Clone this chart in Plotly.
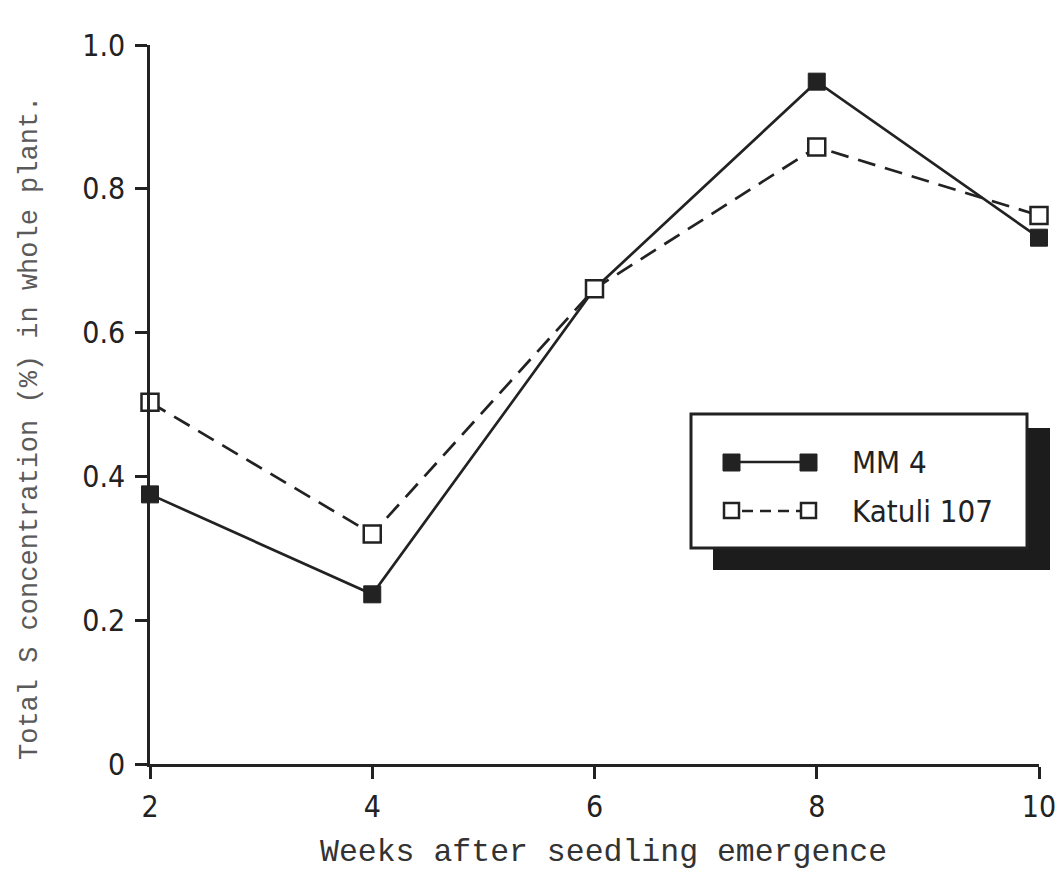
import plotly.graph_objects as go

# Sulphur concentration in whole plant by cultivar
weeks = [2, 4, 6, 8, 10]
mm4 = [0.375, 0.236, 0.661, 0.949, 0.732]
katuli107 = [0.503, 0.320, 0.661, 0.858, 0.763]
x_ticks = [2, 4, 6, 8, 10]
y_ticks = [0, 0.2, 0.4, 0.6, 0.8, 1.0]
y_tick_text = ["0", "0.2", "0.4", "0.6", "0.8", "1.0"]
series_names = ["MM 4", "Katuli 107"]

W, H = 1059, 896
L, R, T, B = 150, 20, 45, 132
INK = "#222222"
SANS = "DejaVu Sans Condensed, DejaVu Sans, sans-serif"
MONO = "Liberation Mono, DejaVu Sans Mono, monospace"


def px(x):
    return (x - L) / (W - L - R)


def py(y):
    return (H - B - y) / (H - T - B)


fig = go.Figure()
fig.add_trace(go.Scatter(
    x=weeks, y=mm4, mode="lines+markers", name=series_names[0],
    line=dict(color=INK, width=2.7),
    marker=dict(symbol="square", size=17, color=INK, line=dict(color=INK, width=1)),
    cliponaxis=False, showlegend=False))
fig.add_trace(go.Scatter(
    x=weeks, y=katuli107, mode="lines+markers", name=series_names[1],
    line=dict(color=INK, width=2.7, dash="18px,10px"),
    marker=dict(symbol="square", size=17, color="white", line=dict(color=INK, width=2.5)),
    cliponaxis=False, showlegend=False))

# Legend panel with drop shadow
shapes = [
    dict(type="rect", xref="paper", yref="paper", x0=px(713), x1=px(1050), y0=py(570), y1=py(428),
         fillcolor="#1c1c1c", line=dict(width=0), layer="above"),
    dict(type="rect", xref="paper", yref="paper", x0=px(691), x1=px(1027), y0=py(548), y1=py(414),
         fillcolor="white", line=dict(color=INK, width=3), layer="above"),
    # MM 4 sample
    dict(type="line", xref="paper", yref="paper", x0=px(731), x1=px(808), y0=py(462), y1=py(462),
         line=dict(color=INK, width=2.5), layer="above"),
    dict(type="rect", xref="paper", yref="paper", x0=px(723), x1=px(740), y0=py(471), y1=py(454),
         fillcolor=INK, line=dict(color=INK, width=1), layer="above"),
    dict(type="rect", xref="paper", yref="paper", x0=px(800), x1=px(817), y0=py(471), y1=py(454),
         fillcolor=INK, line=dict(color=INK, width=1), layer="above"),
    # Katuli 107 sample
    dict(type="line", xref="paper", yref="paper", x0=px(742), x1=px(800), y0=py(511), y1=py(511),
         line=dict(color=INK, width=2.5, dash="11px,7px"), layer="above"),
    dict(type="rect", xref="paper", yref="paper", x0=px(724), x1=px(739), y0=py(518), y1=py(503),
         fillcolor="white", line=dict(color=INK, width=2.5), layer="above"),
    dict(type="rect", xref="paper", yref="paper", x0=px(801), x1=px(816), y0=py(518), y1=py(503),
         fillcolor="white", line=dict(color=INK, width=2.5), layer="above"),
]

annotations = [
    dict(text=series_names[0], xref="paper", yref="paper", x=px(850), y=py(462),
         xanchor="left", yanchor="middle", showarrow=False,
         font=dict(family=SANS, size=31, color=INK)),
    dict(text=series_names[1], xref="paper", yref="paper", x=px(850), y=py(511),
         xanchor="left", yanchor="middle", showarrow=False,
         font=dict(family=SANS, size=31, color=INK)),
    dict(text="Weeks after seedling emergence", xref="paper", yref="paper",
         x=px(603), y=py(852), xanchor="center", yanchor="middle", showarrow=False,
         font=dict(family=MONO, size=31.5, color="#333333")),
    dict(text="Total S concentration (%) in whole plant.", xref="paper", yref="paper",
         x=px(30), y=py(428), xanchor="center", yanchor="middle", textangle=-90, showarrow=False,
         font=dict(family=MONO, size=27, color="#5a5a5a")),
]

fig.update_layout(
    width=W, height=H,
    margin=dict(l=L, r=R, t=T, b=B, pad=0, autoexpand=False),
    paper_bgcolor="white", plot_bgcolor="white",
    shapes=shapes, annotations=annotations,
    xaxis=dict(range=[2, 10], tickvals=x_ticks, ticktext=[str(v) for v in x_ticks],
               automargin=False,
               showgrid=False, zeroline=False, showline=True, linecolor=INK, linewidth=2.5,
               ticks="outside", ticklen=12, tickwidth=2.5, tickcolor=INK,
               ticklabelstandoff=2, ticklabeloverflow="allow",
               tickfont=dict(family=SANS, size=30, color=INK)),
    yaxis=dict(range=[0, 1.0], tickvals=y_ticks, ticktext=y_tick_text,
               automargin=False,
               showgrid=False, zeroline=False, showline=True, linecolor=INK, linewidth=2.5,
               ticks="outside", ticklen=12, tickwidth=2.5, tickcolor=INK,
               ticklabelstandoff=4, ticklabeloverflow="allow",
               tickfont=dict(family=SANS, size=30, color=INK)),
)

fig.write_html("out.html")
